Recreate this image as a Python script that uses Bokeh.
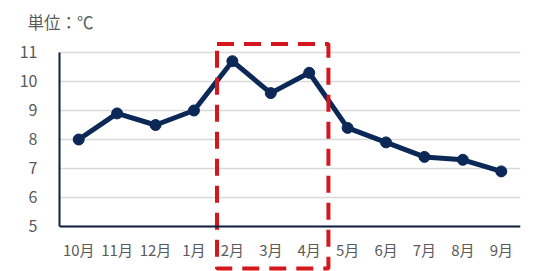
from bokeh.plotting import figure
from bokeh.models import FixedTicker, Range1d, ColumnDataSource, Title
from bokeh.transform import dodge
from bokeh.embed import file_html
from bokeh.resources import INLINE

months = ["10月", "11月", "12月", "1月", "2月", "3月", "4月", "5月", "6月", "7月", "8月", "9月"]
temps = [8.0, 8.9, 8.5, 9.0, 10.7, 9.6, 10.3, 8.4, 7.9, 7.4, 7.3, 6.9]
y_ticks = [5, 6, 7, 8, 9, 10, 11]
unit_label = "単位：℃"
highlight_from = "2月"
highlight_to = "4月"
highlight_low = 3.55
highlight_high = 11.29

FONT = "Noto Sans CJK JP"
TOP = 36  # frame top in pixels

p = figure(x_range=months, y_range=Range1d(3.448, 11 + (52 - TOP) / 29), width=537, height=271,
           output_backend="svg", toolbar_location=None,
           min_border_left=59, min_border_right=17, min_border_top=TOP, min_border_bottom=0)
p.outline_line_color = None
p.background_fill_color = "white"
p.border_fill_color = "white"

p.add_layout(Title(text=unit_label, align="left", offset=-32, standoff=6,
                   text_font=FONT, text_font_size="16.5px", text_font_style="normal",
                   text_color="#5a5a5a"), "above")

# axes
p.yaxis.ticker = FixedTicker(ticks=y_ticks)
p.yaxis.bounds = (min(y_ticks), max(y_ticks))
p.yaxis.axis_line_color = "#0e1e3d"
p.yaxis.axis_line_width = 2
p.yaxis.major_tick_line_color = None
p.yaxis.minor_tick_line_color = None
p.yaxis.major_label_standoff = 16
p.yaxis.major_label_text_font = FONT
p.yaxis.major_label_text_font_size = "16px"
p.yaxis.major_label_text_color = "#5a5a5a"

p.xaxis.fixed_location = min(y_ticks)
p.xaxis.axis_line_color = "#0e1e3d"
p.xaxis.axis_line_width = 2
p.xaxis.major_tick_line_color = None
p.xaxis.minor_tick_line_color = None
p.xaxis.major_label_standoff = 7
p.xaxis.major_label_text_font = FONT
p.xaxis.major_label_text_font_size = "15px"
p.xaxis.major_label_text_color = "#5a5a5a"

p.xgrid.grid_line_color = None
p.ygrid.ticker = FixedTicker(ticks=y_ticks)
p.ygrid.grid_line_color = "#d9d9d9"
p.ygrid.grid_line_width = 1.5

src = ColumnDataSource(dict(m=months, t=temps))
p.line("m", "t", source=src, line_color="#0b2857", line_width=5)
p.scatter("m", "t", source=src, size=11, fill_color="#0b2857", line_color="#0b2857")

hs = ColumnDataSource(dict(a=[highlight_from], b=[highlight_to], lo=[highlight_low], hi=[highlight_high]))
p.quad(left=dodge("a", -0.4, range=p.x_range), right=dodge("b", 0.5, range=p.x_range),
       bottom="lo", top="hi", source=hs, fill_alpha=0, line_color="#d4161d",
       line_width=4, line_dash="17 10")

open("out.html", "w").write(file_html(p, INLINE))
